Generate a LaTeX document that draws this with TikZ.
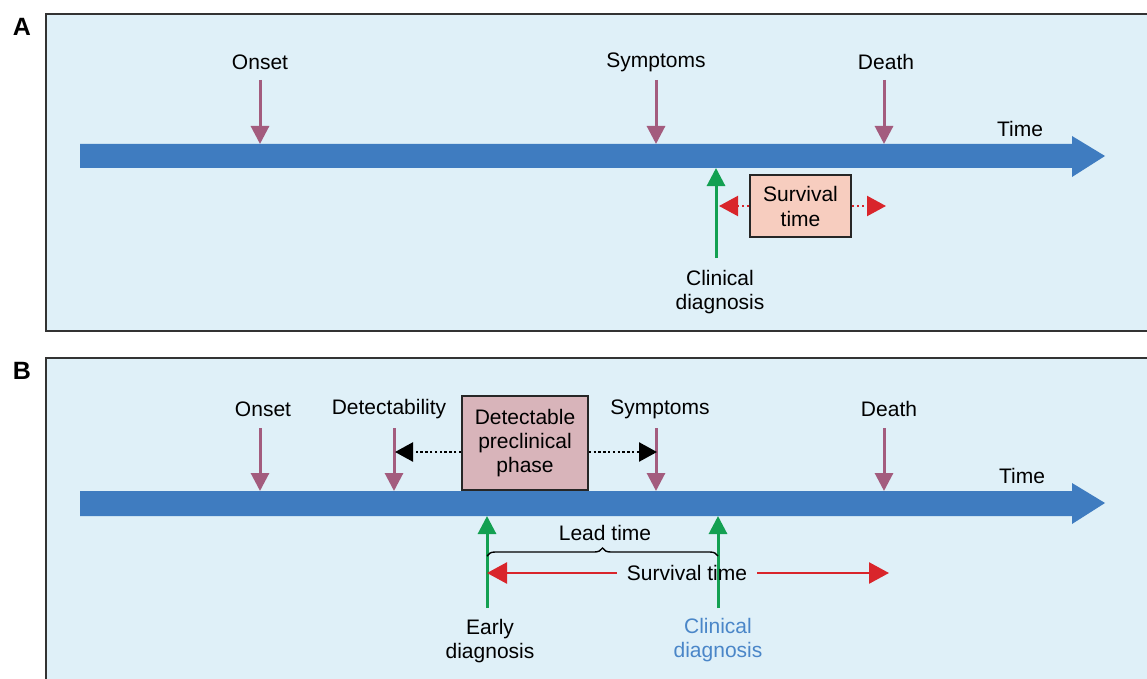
\documentclass[tikz,border=0pt]{standalone}
\usepackage{fontspec}
\setmainfont{Liberation Sans}
\usetikzlibrary{arrows.meta,decorations.pathreplacing}
\definecolor{bgblue}{HTML}{DFF0F8}
\definecolor{timeblue}{HTML}{3F7CC0}
\definecolor{mauve}{HTML}{A35C7E}
\definecolor{dgreen}{HTML}{13A052}
\definecolor{dred}{HTML}{D9252B}
\definecolor{salmon}{HTML}{F7CDBF}
\definecolor{pinkbox}{HTML}{D8B4BA}
\definecolor{txtblue}{HTML}{4A86C8}
\tikzset{
  panel/.style={draw=black!80, line width=1.6pt, fill=bgblue},
  lbl/.style={font=\fontsize{21}{24}\selectfont, inner sep=0pt, align=center},
  plabel/.style={font=\fontsize{25}{28}\selectfont\bfseries, inner sep=0pt},
  timearrow/.style={fill=timeblue, draw=none},
  eventarrow/.style={draw=mauve, line width=3pt, -{Triangle[width=18pt,length=18pt]}},
  diagarrow/.style={draw=dgreen, line width=3pt, -{Triangle[width=18pt,length=18pt]}},
  survbox/.style={draw=black!85, line width=1.6pt, fill=salmon, font=\fontsize{21}{25}\selectfont, align=center, minimum width=101pt, minimum height=62pt, inner sep=0pt},
  phasebox/.style={draw=black!85, line width=1.6pt, fill=pinkbox, font=\fontsize{21}{24}\selectfont, align=center, minimum width=126pt, minimum height=94pt, inner sep=0pt},
  reddot/.style={draw=dred, line width=2.2pt, dash pattern=on 2.2pt off 3pt, -{Triangle[width=20pt,length=19pt]}},
  blackdot/.style={draw=black, line width=2.4pt, dash pattern=on 2.4pt off 2.4pt, -{Triangle[width=19pt,length=18pt]}},
  redline/.style={draw=dred, line width=2.6pt, -{Triangle[width=21pt,length=20pt]}},
}
\begin{document}
\begin{tikzpicture}[x=1pt,y=-1pt]
\useasboundingbox (0,0) rectangle (1147,679);
% ---------- Panel A ----------
\path[panel] (46,14) rectangle (1150,331);
\node[plabel] (labA) at (22,27) {A};
\path[timearrow] (80,144) -- (1072,144) -- (1072,136) -- (1105,156) -- (1072,177) -- (1072,168) -- (80,168) -- cycle;
\node[lbl] (timeA) at (1020,129) {Time};
\node[lbl] (onsetA) at (260,62) {Onset};
\node[lbl] (sympA) at (656,62) {Symptoms};
\node[lbl] (deathA) at (886,62) {Death};
\coordinate (onsetAt) at (260,144);
\coordinate (sympAt) at (656,144);
\coordinate (deathAt) at (884,144);
\draw[eventarrow] (260,80) -- (onsetAt);
\draw[eventarrow] (656,80) -- (sympAt);
\draw[eventarrow] (884,80) -- (deathAt);
\node[lbl] (clinA) at (720,292) {Clinical\\diagnosis};
\coordinate (clinAbase) at (716,258);
\coordinate (clinAtip) at (716,168);
\draw[diagarrow] (clinAbase) -- (clinAtip);
\node[survbox] (survA) at (800.5,206) {Survival\\time};
\coordinate (survAl) at (719,206);
\coordinate (survAr) at (886,206);
\draw[reddot] (survA.west) -- (survAl);
\draw[reddot] (survA.east) -- (survAr);
% ---------- Panel B ----------
\path[panel] (46,358) rectangle (1150,685);
\node[plabel] (labB) at (22,371) {B};
\path[timearrow] (80,491) -- (1072,491) -- (1072,483) -- (1105,503) -- (1072,524) -- (1072,516) -- (80,516) -- cycle;
\node[lbl] (timeB) at (1022,476) {Time};
\node[lbl] (onsetB) at (263,409) {Onset};
\node[lbl] (detB) at (389,409) {Detectability};
\node[lbl] (sympB) at (660,409) {Symptoms};
\node[lbl] (deathB) at (889,409) {Death};
\coordinate (onsetBt) at (260,491);
\coordinate (detBt) at (394,491);
\coordinate (sympBt) at (656,491);
\coordinate (deathBt) at (884,491);
\draw[eventarrow] (260,428) -- (onsetBt);
\draw[eventarrow] (394,428) -- (detBt);
\draw[eventarrow] (656,428) -- (sympBt);
\draw[eventarrow] (884,428) -- (deathBt);
\node[phasebox] (phase) at (525,443) {Detectable\\preclinical\\phase};
\coordinate (phaseL) at (395,452);
\coordinate (phaseR) at (657,452);
\draw[blackdot] (phase.west |- phaseL) -- (phaseL);
\draw[blackdot] (phase.east |- phaseR) -- (phaseR);
% diagnoses
\coordinate (earlyBase) at (487,608);
\coordinate (earlyTip) at (487,516);
\coordinate (clinBase) at (718,608);
\coordinate (clinTip) at (718,516);
\draw[diagarrow] (earlyBase) -- (earlyTip);
\draw[diagarrow] (clinBase) -- (clinTip);
\node[lbl] (earlyB) at (490,641) {Early\\diagnosis};
\node[lbl, text=txtblue] (clinB) at (718,640) {Clinical\\diagnosis};
% lead time brace
\coordinate (braceL) at (487,556);
\coordinate (braceR) at (718,556);
\draw[line width=1.4pt, decorate, decoration={brace, amplitude=8pt}] (braceL) -- (braceR);
\node[lbl] (lead) at (605,533) {Lead time};
% survival time
\node[lbl, inner xsep=10pt] (survB) at (687,573) {Survival time};
\coordinate (survBl) at (487,573);
\coordinate (survBr) at (889,573);
\draw[redline] (survB.west) -- (survBl);
\draw[redline] (survB.east) -- (survBr);
\end{tikzpicture}
\end{document}
